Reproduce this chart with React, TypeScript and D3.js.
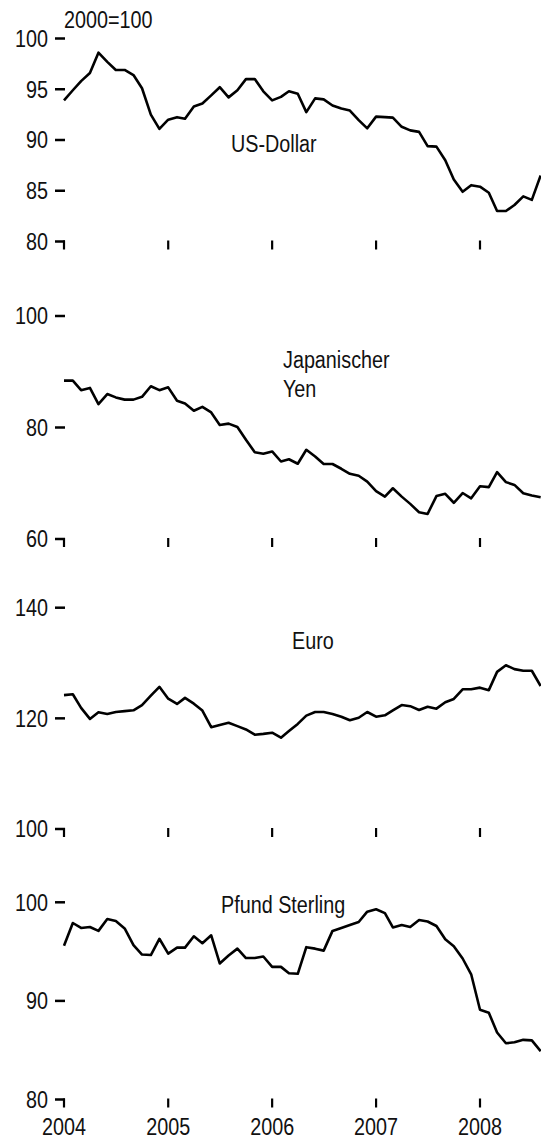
import React from "react";
import * as d3 from "d3";

// monthly index values, Jan 2004 .. Aug 2008 (2000=100)
const usDollar = [
  93.9, 94.9, 95.8, 96.6, 98.6, 97.7, 96.9, 96.9, 96.4, 95.1, 92.5, 91.1,
  92.0, 92.25, 92.1, 93.3, 93.6, 94.4, 95.2, 94.2, 94.9, 96.0, 96.0, 94.8,
  93.9, 94.25, 94.8, 94.55, 92.75, 94.1, 94.0, 93.4, 93.1, 92.9, 91.96, 91.15,
  92.3, 92.25, 92.2, 91.3, 90.95, 90.8, 89.4, 89.35, 88.0, 86.1, 84.9, 85.55,
  85.4, 84.8, 83.0, 83.0, 83.6, 84.45, 84.1, 86.5,
];
const yen = [
  88.4, 88.4, 86.7, 87.1, 84.2, 86.0, 85.4, 85.0, 85.0, 85.5, 87.4, 86.7,
  87.2, 84.8, 84.3, 83.0, 83.7, 82.7, 80.45, 80.7, 80.1, 77.8, 75.55, 75.3,
  75.7, 73.9, 74.3, 73.5, 76.0, 74.8, 73.45, 73.45, 72.6, 71.7, 71.35, 70.3,
  68.6, 67.6, 69.1, 67.6, 66.3, 64.8, 64.5, 67.7, 68.1, 66.5, 68.25, 67.3,
  69.45, 69.3, 72.0, 70.2, 69.7, 68.2, 67.8, 67.5,
];
const euro = [
  124.2, 124.35, 121.9, 119.9, 121.1, 120.8, 121.15, 121.3, 121.45, 122.4, 124.1, 125.7,
  123.55, 122.6, 123.7, 122.65, 121.4, 118.4, 118.8, 119.2, 118.6, 118.0, 117.05, 117.2,
  117.4, 116.5, 117.7, 119.0, 120.5, 121.15, 121.15, 120.8, 120.3, 119.65, 120.1, 121.15,
  120.3, 120.55, 121.45, 122.4, 122.2, 121.5, 122.1, 121.75, 122.9, 123.5, 125.25, 125.25,
  125.55, 125.1, 128.4, 129.6, 128.9, 128.6, 128.6, 125.85,
];
const pfund = [
  95.6, 97.9, 97.4, 97.5, 97.1, 98.3, 98.1, 97.35, 95.65, 94.7, 94.65, 96.3,
  94.8, 95.4, 95.4, 96.55, 95.85, 96.65, 93.8, 94.6, 95.3, 94.35, 94.35, 94.5,
  93.45, 93.45, 92.8, 92.75, 95.45, 95.3, 95.1, 97.1, 97.4, 97.7, 98.0, 99.05,
  99.3, 98.9, 97.45, 97.7, 97.5, 98.2, 98.05, 97.6, 96.25, 95.55, 94.3, 92.7,
  89.1, 88.8, 86.8, 85.7, 85.8, 86.05, 86.0, 84.9,
];
const years = [2004, 2005, 2006, 2007, 2008];

const panels = [
  { name: ["US-Dollar"], values: usDollar, domain: [80, 100], ticks: [80, 85, 90, 95, 100], top: 38.5, bottom: 241.5, lx: 231, ly: 152 },
  { name: ["Japanischer", "Yen"], values: yen, domain: [60, 100], ticks: [60, 80, 100], top: 316, bottom: 539, lx: 283, ly: 368 },
  { name: ["Euro"], values: euro, domain: [100, 140], ticks: [100, 120, 140], top: 607.7, bottom: 829, lx: 292, ly: 649 },
  { name: ["Pfund Sterling"], values: pfund, domain: [80, 100], ticks: [80, 90, 100], top: 902.3, bottom: 1099.5, lx: 221, ly: 913 },
];

// no narrow font available, so squeeze Liberation Sans horizontally
const Label = ({ x, y, anchor = "start", dy, children }: any) => (
  <text
    transform={`translate(${x},${y}) scale(0.86,1)`}
    textAnchor={anchor}
    dy={dy}
    fill="#111"
  >
    {children}
  </text>
);

export default function App() {
  const x = d3
    .scaleTime()
    .domain([new Date(2004, 0, 1), new Date(2008, 0, 1)])
    .range([64, 480]);

  return (
    <svg
      width={541}
      height={1140}
      style={{ position: "absolute", left: 0, top: 0, background: "white" }}
      fontFamily="'Liberation Sans', Arial, sans-serif"
      fontSize={23}
    >
      <Label x={64} y={28}>2000=100</Label>
      {panels.map((p, pi) => {
        const y = d3.scaleLinear().domain(p.domain).range([p.bottom, p.top]);
        const line = d3
          .line<number>()
          .x((_, i) => x(new Date(2004, i, 1)))
          .y((d) => y(d));
        return (
          <g key={pi}>
            {p.ticks.map((t) => (
              <g key={t}>
                <line x1={55} x2={65} y1={y(t)} y2={y(t)} stroke="#000" strokeWidth={2.5} />
                <Label x={48} y={y(t)} dy="0.36em" anchor="end">
                  {t}
                </Label>
              </g>
            ))}
            {years.map((yr) => (
              <line
                key={yr}
                x1={x(new Date(yr, 0, 1))}
                x2={x(new Date(yr, 0, 1))}
                y1={p.bottom - 1}
                y2={p.bottom + 8}
                stroke="#000"
                strokeWidth={2.2}
              />
            ))}
            <path
              d={line(p.values) || ""}
              fill="none"
              stroke="#000"
              strokeWidth={2.6}
              strokeLinejoin="round"
            />
            {p.name.map((s, i) => (
              <Label key={s} x={p.lx} y={p.ly + i * 29}>
                {s}
              </Label>
            ))}
            {pi === panels.length - 1 &&
              years.map((yr) => (
                <Label key={yr} x={x(new Date(yr, 0, 1))} y={1135} anchor="middle">
                  {yr}
                </Label>
              ))}
          </g>
        );
      })}
    </svg>
  );
}
